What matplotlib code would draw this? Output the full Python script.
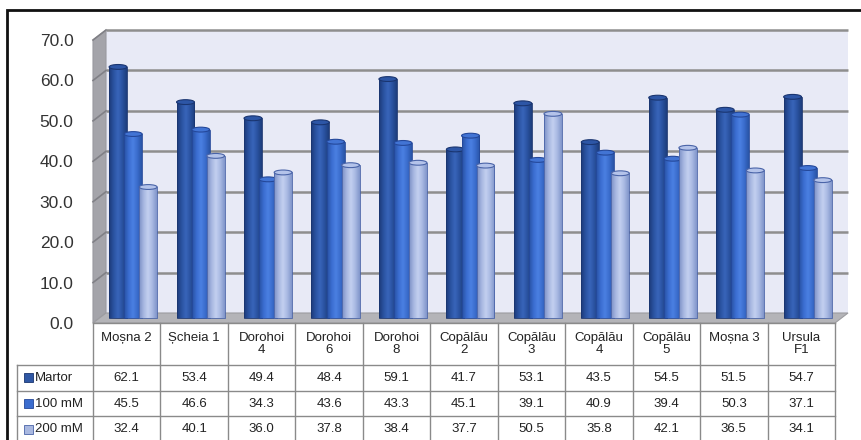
import numpy as np
import matplotlib
matplotlib.use("Agg")
import matplotlib.pyplot as plt
from matplotlib.patches import Rectangle, Polygon, Ellipse
from matplotlib.lines import Line2D
from matplotlib.colors import LinearSegmentedColormap

plt.rcParams['font.family'] = ['Liberation Sans', 'DejaVu Sans']

# === Data ===
categories = ['Moșna 2', 'Șcheia 1', 'Dorohoi\n4', 'Dorohoi\n6', 'Dorohoi\n8',
              'Copălău\n2', 'Copălău\n3', 'Copălău\n4', 'Copălău\n5', 'Moșna 3', 'Ursula\nF1']
series_names = ['Martor', '100 mM', '200 mM']
martor = [62.1, 53.4, 49.4, 48.4, 59.1, 41.7, 53.1, 43.5, 54.5, 51.5, 54.7]
mm100 = [45.5, 46.6, 34.3, 43.6, 43.3, 45.1, 39.1, 40.9, 39.4, 50.3, 37.1]
mm200 = [32.4, 40.1, 36.0, 37.8, 38.4, 37.7, 50.5, 35.8, 42.1, 36.5, 34.1]
series = [martor, mm100, mm200]
yticks = [0, 10, 20, 30, 40, 50, 60, 70]

# === Styles ===
W, H = 862, 440
grads = [['#1c3a78', '#2a52a0', '#3865ba', '#2a52a0', '#1d3d7c'],
         ['#2852a2', '#3a6ccf', '#4b80e2', '#3a6ccc', '#2954a6'],
         ['#7b90c6', '#a6b6e0', '#c3d0f0', '#a8b8e2', '#8095ca']]
tops = ['#2d56a6', '#4274d4', '#b4c3ea']
edges = ['#1a3570', '#24489a', '#4a64a8']
keys = ['#2f57a4', '#3b6dcf', '#a9b8e0']

# axes geometry in pixels (front plane)
left, right, bottom, top = 93, 835, 323, 40
ncat = len(categories)
colw = (right - left) / ncat
unit = (bottom - top) / 70.0
dx = 13 / colw      # depth offset in data units
dy = 10 / unit

fig = plt.figure(figsize=(W / 100, H / 100), dpi=100)
fig.patch.set_facecolor('white')
ax = fig.add_axes([left / W, 1 - bottom / H, (right - left) / W, (bottom - top) / H])
ax.set_facecolor('none')
for s in ax.spines.values():
    s.set_visible(False)

x0, x1 = -0.5, ncat - 0.5

# back wall
ax.add_patch(Rectangle((x0 + dx, dy), x1 - x0, 70, facecolor='#e8eaf6',
                       edgecolor='none', zorder=0, clip_on=False))
for v in yticks[1:]:
    ax.plot([x0 + dx, x1 + dx], [v + dy, v + dy], color='#8e8e8e', lw=1.8,
            zorder=0.5, clip_on=False, solid_capstyle='butt')

# left wall
ax.add_patch(Polygon([(x0, 0), (x0 + dx, dy), (x0 + dx, 70 + dy), (x0, 70)],
                     facecolor='#a4a4aa', edgecolor='#9a9aa0', lw=0.8, zorder=0.6, clip_on=False))
for v in yticks[1:]:
    ax.plot([x0, x0 + dx], [v, v + dy], color='#808086', lw=1.2, zorder=0.65, clip_on=False)

# floor
ax.add_patch(Polygon([(x0, 0), (x1, 0), (x1 + dx, dy), (x0 + dx, dy)],
                     facecolor='#b4b4b8', edgecolor='#9c9ca0', lw=0.8, zorder=0.7, clip_on=False))

# bars as cylinders
offsets = [-0.225, 0.0, 0.222]
bw = 0.265
grad = np.linspace(0, 1, 64).reshape(1, -1)
for k, vals in enumerate(series):
    cmap = LinearSegmentedColormap.from_list('g%d' % k, grads[k])
    xs = np.arange(ncat) + offsets[k] + dx / 2
    bars = ax.bar(xs, vals, width=bw, bottom=dy / 2, facecolor='none',
                  edgecolor=edges[k], lw=0.6, zorder=2 + k * 0.1)
    for b, xc, v in zip(bars, xs, vals):
        im = ax.imshow(grad, extent=[xc - bw / 2, xc + bw / 2, dy / 2, v + dy / 2],
                       aspect='auto', cmap=cmap, zorder=1.95 + k * 0.1, interpolation='bilinear')
        im.set_clip_path(b)
        ax.add_patch(Ellipse((xc, v + dy / 2), bw, 1.2, facecolor=tops[k],
                             edgecolor=edges[k], lw=0.8, zorder=2.05 + k * 0.1))

ax.set_xlim(x0, x1)
ax.set_ylim(0, 70)
ax.set_xticks([])
ax.set_yticks(yticks)
ax.set_yticklabels(['%.1f' % v for v in yticks], fontsize=12.5, color='#333333')
ax.tick_params(axis='y', length=0, pad=14)


# === Data table (figure pixel coords) ===
def fx(x):
    return x / W


def fy(y):
    return 1 - y / H


def hline(xa, xb, y):
    fig.add_artist(Line2D([fx(xa), fx(xb)], [fy(y), fy(y)], color='#8a8a8a', lw=1.0))


def vline(x, ya, yb):
    fig.add_artist(Line2D([fx(x), fx(x)], [fy(ya), fy(yb)], color='#8a8a8a', lw=1.0))


head_top, head_bot, row_h = 323, 365, 25.7
tab_left = 17
col_edges = [left + i * colw for i in range(ncat + 1)]

hline(left, right, head_top)
hline(tab_left, right, head_bot)
for r in range(1, 3):
    hline(tab_left, right, head_bot + r * row_h)
for xe in col_edges:
    vline(xe, head_top, H + 5)
vline(tab_left, head_bot, H + 5)

for i, name in enumerate(categories):
    xc = (col_edges[i] + col_edges[i + 1]) / 2
    fig.text(fx(xc), fy(332), name, ha='center', va='top', fontsize=9.5,
             color='#222222', linespacing=1.05)

for r, (name, vals) in enumerate(zip(series_names, series)):
    yc = head_bot + (r + 0.5) * row_h
    fig.add_artist(Rectangle((fx(24), fy(yc + 4.5)), 9 / W, 9 / H, facecolor=keys[r],
                             edgecolor=edges[r], lw=0.6, transform=fig.transFigure))
    fig.text(fx(35), fy(yc), name, ha='left', va='center', fontsize=9.5, color='#222222')
    for i, v in enumerate(vals):
        xc = (col_edges[i] + col_edges[i + 1]) / 2
        fig.text(fx(xc), fy(yc), '%.1f' % v, ha='center', va='center', fontsize=9.5,
                 color='#222222')

# outer frame
fig.add_artist(Rectangle((fx(7), fy(H + 20)), (W + 20) / W, (H + 20 - 10) / H, facecolor='none',
                         edgecolor='#111111', lw=2, transform=fig.transFigure))

fig.savefig('out.png', dpi=100)
